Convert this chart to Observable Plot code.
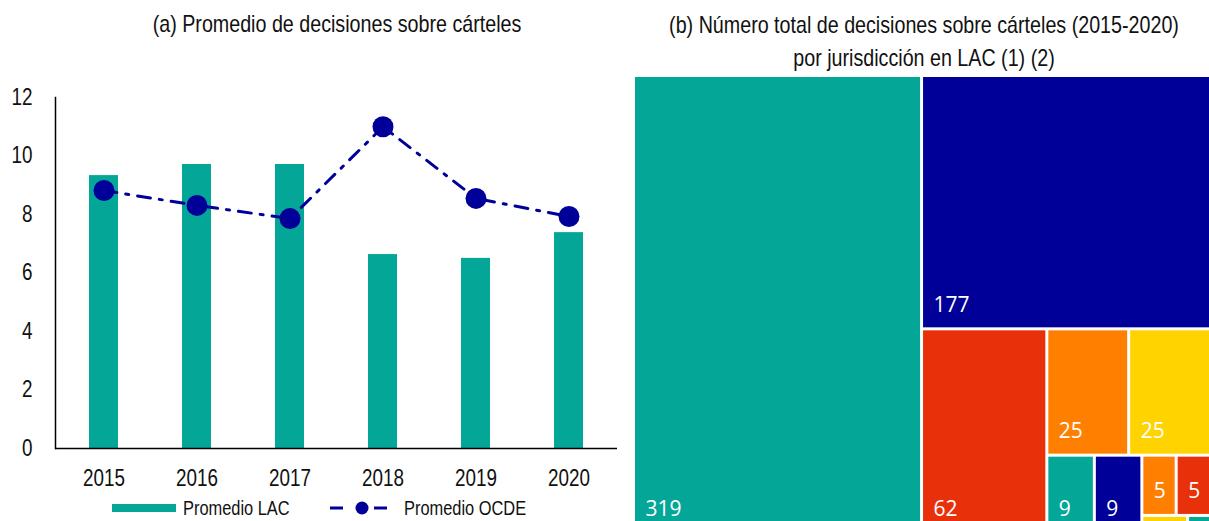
<!DOCTYPE html>
<html><head><meta charset="utf-8">
<script src="https://cdn.jsdelivr.net/npm/d3@7"></script>
<script src="https://cdn.jsdelivr.net/npm/@observablehq/plot@0.6"></script>
<style>
html,body{margin:0;padding:0;background:#fff;overflow:hidden;}
#wrap{position:relative;width:1209px;height:521px;overflow:hidden;background:#fff;}
.t{position:absolute;font-family:"Liberation Sans",Arial,sans-serif;color:#111;text-align:center;font-size:24px;line-height:33px;white-space:nowrap;transform:scaleX(0.82);transform-origin:50% 50%;}
#left{position:absolute;left:0;top:80px;}
#right{position:absolute;left:635px;top:77px;}
.lg{position:absolute;font-family:"Liberation Sans",Arial,sans-serif;font-size:20px;color:#111;white-space:nowrap;transform:scaleX(0.82);transform-origin:0 50%;line-height:24px;}
.sw{position:absolute;}
</style></head><body><div id="wrap">
<div class="t" style="left:37px;top:7px;width:600px;">(a) Promedio de decisiones sobre cárteles</div>
<div class="t" style="left:524px;top:8px;width:800px;">(b) Número total de decisiones sobre cárteles (2015-2020)<br>por jurisdicción en LAC (1) (2)</div>
<div id="left"></div>
<div id="right"></div>
<div id="legend"></div>
</div>
<script>
// ---- data: panel (a)
const years = ["2015", "2016", "2017", "2018", "2019", "2020"];
const lacAvg = [9.33, 9.71, 9.71, 6.63, 6.50, 7.38];
const ocdeAvg = [8.82, 8.31, 7.86, 11.0, 8.55, 7.93];
const yTicks = [0, 2, 4, 6, 8, 10, 12];
const seriesNames = ["Promedio LAC", "Promedio OCDE"];

// ---- data: panel (b)
const jurisdictions = ["J1", "J2", "J3", "J4", "J5", "J6", "J7", "J8", "J9", "J10", "J11"];
const totals = [319, 177, 62, 25, 25, 9, 9, 5, 5, 2, 1];
const tileColors = ["#04A698", "#000099", "#E8300A", "#FF8000", "#FFD300", "#04A698", "#000099", "#FF8000", "#E8300A", "#FFD300", "#04A698"];

const TEAL = "#04A698", NAVY = "#000099";
const FONT = "'Liberation Sans', Arial, sans-serif";

// ---- panel (a)
const rows = years.map((y, i) => ({year: y, lac: lacAvg[i], ocde: ocdeAvg[i]}));
const left = Plot.plot({
  width: 630, height: 420,
  marginLeft: 55, marginRight: 13, marginTop: 17, marginBottom: 52,
  style: {fontFamily: FONT, fontSize: "23px", color: "#111", background: "transparent", overflow: "visible"},
  x: {domain: years, paddingInner: 0.69, paddingOuter: 0.345, label: null},
  y: {domain: [0, 12], label: null},
  marks: [
    Plot.barY(rows, {x: "year", y: "lac", fill: TEAL}),
    Plot.line(rows, {x: "year", y: "ocde", stroke: NAVY, strokeWidth: 3, strokeDasharray: "13 9 3 9"}),
    Plot.dot(rows, {x: "year", y: "ocde", r: 10.5, fill: NAVY}),
    Plot.axisY({ticks: yTicks, tickSize: 0, tickPadding: 23, label: null, fontSize: 23}),
    Plot.axisX({tickSize: 0, tickPadding: 21, label: null, fontSize: 23}),
    Plot.frame({anchor: "left", stroke: "#000", strokeWidth: 1.5}),
    Plot.ruleY([0], {stroke: "#000", strokeWidth: 1.5})
  ]
});
// condense tick labels (narrow-font look)
d3.select(left).selectAll("g[aria-label='y-axis tick label'] text, g[aria-label='x-axis tick label'] text").each(function () {
  const t = this.getAttribute("transform");
  if (t) {
    this.setAttribute("transform", t + " scale(0.82,1)");
  } else {
    const x = +(this.getAttribute("x") || 0), y = +(this.getAttribute("y") || 0);
    this.removeAttribute("x"); this.removeAttribute("y");
    this.setAttribute("transform", `translate(${x},${y}) scale(0.82,1)`);
  }
});
document.getElementById("left").appendChild(left);

// legend
const lg = document.getElementById("legend");
lg.innerHTML =
  `<svg class="sw" style="left:112px;top:503px" width="64" height="10"><rect x="0" y="1" width="64" height="8" fill="${TEAL}"/></svg>` +
  `<div class="lg" style="left:183px;top:496px">${seriesNames[0]}</div>` +
  `<svg class="sw" style="left:330px;top:497px" width="58" height="22"><line x1="0" y1="11" x2="13" y2="11" stroke="${NAVY}" stroke-width="3"/><circle cx="32" cy="11" r="6.5" fill="${NAVY}"/><line x1="44" y1="11" x2="57" y2="11" stroke="${NAVY}" stroke-width="3"/></svg>` +
  `<div class="lg" style="left:404px;top:496px">${seriesNames[1]}</div>`;

// ---- panel (b) treemap
const W = 574, H = 455;
const root = d3.hierarchy({children: jurisdictions.map((j, i) => ({name: j, value: totals[i]}))})
  .sum(d => d.value || 0)
  .sort((a, b) => b.value - a.value);
d3.treemap().tile(d3.treemapSquarify.ratio(1)).size([W, H]).paddingInner(3).round(false)(root);
const leaves = root.leaves().map(l => ({name: l.data.name, value: l.data.value, x0: l.x0, x1: l.x1, y0: l.y0, y1: l.y1}));
const labelled = leaves.filter(d => (d.y1 - d.y0) > 40 && (d.x1 - d.x0) > 25);

const right = Plot.plot({
  width: W, height: H,
  margin: 0,
  x: {domain: [0, W], range: [0, W], axis: null},
  y: {domain: [0, H], range: [0, H], axis: null},
  color: {domain: jurisdictions, range: tileColors},
  style: {background: "transparent"},
  marks: [
    Plot.rect(leaves, {x1: "x0", x2: "x1", y1: "y0", y2: "y1", fill: "name"}),
    Plot.text(labelled, {x: "x0", y: "y1", text: d => String(d.value), dx: 10, dy: -23, textAnchor: "start",
      fill: "white", fontSize: 21, fontFamily: "'Open Sans', 'Noto Sans', sans-serif"})
  ]
});
document.getElementById("right").appendChild(right);
</script>
</body></html>
